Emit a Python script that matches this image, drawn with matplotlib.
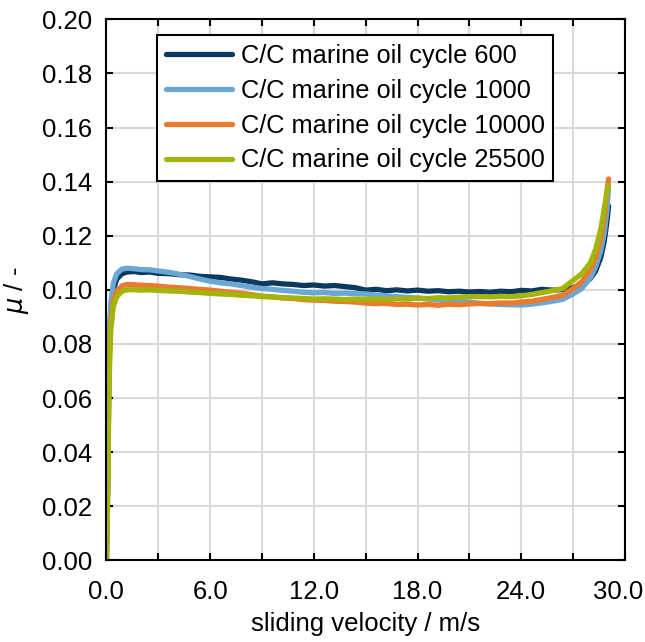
import matplotlib
matplotlib.use("Agg")
import matplotlib.pyplot as plt
from matplotlib.ticker import MultipleLocator, FormatStrFormatter
from matplotlib.transforms import ScaledTranslation

plt.rcParams["font.family"] = ["Liberation Sans", "DejaVu Sans"]

# sliding velocity in m/s (shared by all four runs)
velocity = [0.0, 0.08, 0.15, 0.25, 0.4, 0.6, 0.9, 1.2, 1.6, 2.0, 2.5, 3.0, 3.6, 4.2, 4.8,
            5.4, 6.0, 6.6, 7.2, 7.8, 8.4, 9.0, 9.6, 10.2, 10.8, 11.4, 12.0, 12.6, 13.2,
            13.8, 14.4, 15.0, 15.6, 16.2, 16.8, 17.4, 18.0, 18.6, 19.2, 19.8, 20.4, 21.0,
            21.6, 22.2, 22.8, 23.4, 24.0, 24.6, 25.2, 25.8,
            26.4, 27.0, 27.5, 28.0, 28.3, 28.6, 28.8, 28.95, 29.05]

mu_600 = [0.0, 0.030, 0.075, 0.092, 0.1000, 0.1040, 0.1060, 0.1066, 0.1068, 0.1064, 0.1066,
          0.1061, 0.1060, 0.1056, 0.1055, 0.1050, 0.1048, 0.1046, 0.1040, 0.1036, 0.1030,
          0.1022, 0.1026, 0.1022, 0.1020, 0.1016, 0.1018, 0.1014, 0.1016, 0.1012, 0.1008,
          0.0999, 0.1002, 0.0997, 0.1000, 0.0996, 0.0999, 0.0995, 0.0997, 0.0993, 0.0995,
          0.0992, 0.0994, 0.0991, 0.0995, 0.0993, 0.0998, 0.0996, 0.1002, 0.0999,
          0.1001, 0.1008, 0.1020, 0.1042, 0.1070, 0.1120, 0.1180, 0.1250, 0.1310]

mu_1000 = [0.0, 0.035, 0.080, 0.095, 0.1025, 0.1060, 0.1077, 0.1080, 0.1078, 0.1075, 0.1074,
           0.1070, 0.1065, 0.1058, 0.1050, 0.1040, 0.1032, 0.1026, 0.1022, 0.1016, 0.1010,
           0.1005, 0.1002, 0.0998, 0.0995, 0.0991, 0.0989, 0.0990, 0.0987, 0.0988, 0.0986,
           0.0985, 0.0981, 0.0978, 0.0975, 0.0972, 0.0970, 0.0966, 0.0963, 0.0960, 0.0958,
           0.0955, 0.0950, 0.0948, 0.0946, 0.0945, 0.0944, 0.0947, 0.0952, 0.0958,
           0.0965, 0.0985, 0.1005, 0.1045, 0.1085, 0.1145, 0.1210, 0.1290, 0.1375]

mu_10000 = [0.0, 0.030, 0.072, 0.088, 0.0960, 0.0995, 0.1015, 0.1020, 0.1019, 0.1017, 0.1016,
            0.1014, 0.1010, 0.1008, 0.1005, 0.1002, 0.0999, 0.0995, 0.0991, 0.0987, 0.0982,
            0.0977, 0.0974, 0.0970, 0.0968, 0.0964, 0.0962, 0.0961, 0.0958, 0.0957, 0.0955,
            0.0951, 0.0949, 0.0950, 0.0946, 0.0947, 0.0944, 0.0946, 0.0943, 0.0947, 0.0945,
            0.0948, 0.0950, 0.0949, 0.0952, 0.0951, 0.0955, 0.0958, 0.0965, 0.0972,
            0.0980, 0.1005, 0.1030, 0.1075, 0.1120, 0.1190, 0.1270, 0.1360, 0.1410]

mu_25500 = [0.0, 0.025, 0.065, 0.085, 0.0940, 0.0975, 0.0995, 0.1000, 0.1001, 0.0999, 0.1000,
            0.0998, 0.0996, 0.0995, 0.0992, 0.0990, 0.0987, 0.0985, 0.0983, 0.0980, 0.0978,
            0.0975, 0.0974, 0.0971, 0.0970, 0.0968, 0.0966, 0.0967, 0.0966, 0.0964, 0.0966,
            0.0965, 0.0966, 0.0964, 0.0967, 0.0966, 0.0969, 0.0968, 0.0971, 0.0970, 0.0973,
            0.0975, 0.0975, 0.0974, 0.0976, 0.0975, 0.0978, 0.0983, 0.0990, 0.0997,
            0.1005, 0.1035, 0.1060, 0.1100, 0.1150, 0.1225, 0.1300, 0.1360, 0.1385]

series = [
    ("C/C marine oil cycle 600", mu_600, "#0b3a61"),
    ("C/C marine oil cycle 1000", mu_1000, "#6aa7d5"),
    ("C/C marine oil cycle 10000", mu_10000, "#ea7a2e"),
    ("C/C marine oil cycle 25500", mu_25500, "#a3b40c"),
]

fig = plt.figure(figsize=(6.45, 6.42), dpi=100)
ax = fig.add_axes([0.165, 0.127, 0.804, 0.843])

for label, mu, color in series:
    ax.plot(velocity, mu, color=color, lw=3.8, label=label,
            solid_capstyle="round", solid_joinstyle="round")

ax.set_xlim(0, 30)
ax.set_ylim(0, 0.20)
ax.set_xticks([0, 6, 12, 18, 24, 30])
ax.xaxis.set_minor_locator(MultipleLocator(3))
ax.yaxis.set_major_locator(MultipleLocator(0.02))
ax.xaxis.set_major_formatter(FormatStrFormatter("%.1f"))
ax.yaxis.set_major_formatter(FormatStrFormatter("%.2f"))

ax.grid(True, which="both", color="#d9d9d9", lw=1.5)
ax.set_axisbelow(True)
ax.tick_params(which="both", direction="in", top=True, right=True,
               length=5, width=1.5, labelsize=18.5)
ax.tick_params(axis="x", pad=14)
ax.tick_params(axis="y", pad=10)
for s in ax.spines.values():
    s.set_linewidth(1.5)

ax.set_xlabel("sliding velocity / m/s", fontsize=18.5, labelpad=6)
ax.set_ylabel(r"$\mu$ / -", fontsize=18.5, labelpad=8)

leg = ax.legend(loc="upper left", bbox_to_anchor=(0.097, 0.97), fontsize=18.3,
                fancybox=False, frameon=True, edgecolor="black", framealpha=1,
                handlelength=2.6, borderpad=0.35, labelspacing=0.42, handletextpad=0.35,
                borderaxespad=0)
leg.get_frame().set_linewidth(1.5)

# last x label sits a little left of its tick so it stays inside the figure
last = ax.get_xticklabels()[-1]
last.set_transform(last.get_transform() + ScaledTranslation(-0.07, 0, fig.dpi_scale_trans))

fig.savefig("out.png", dpi=100)
